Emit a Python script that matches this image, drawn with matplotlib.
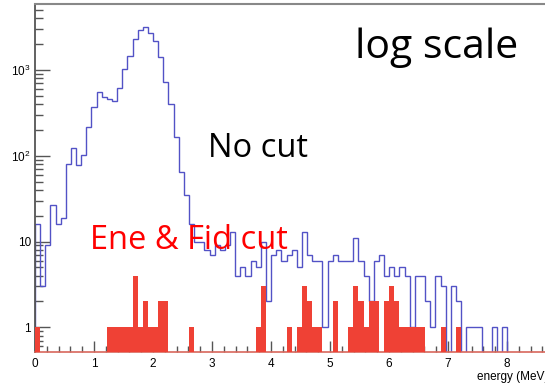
import numpy as np
import matplotlib
matplotlib.use("Agg")
import matplotlib.pyplot as plt
from matplotlib.ticker import FixedLocator, FixedFormatter, LogLocator, MultipleLocator, NullFormatter

plt.rcParams['font.family'] = ['Liberation Sans', 'DejaVu Sans']

# histogram definition: 100 bins from 0 to 8.7 MeV
bin_width = 0.087
n_bins = 100

# counts per bin
no_cut = [16, 3, 9, 27, 16, 19, 80, 125, 78, 103,
          219, 375, 552, 491, 461, 441, 615, 1025, 1465, 2295,
          2945, 3163, 2740, 2210, 1414, 734, 400, 168, 64, 35,
          16, 10, 10, 8, 7, 9, 8, 9, 13, 4,
          5, 4, 6, 5, 10, 2, 7, 8, 6, 7,
          8, 5, 13, 7, 6, 6, 1, 6, 7, 6,
          6, 6, 11, 6, 4, 2, 6, 7, 4, 5,
          4, 5, 4, 1, 4, 4, 2, 1, 4, 3,
          0, 3, 2, 0, 1, 1, 1, 0, 0, 1,
          0, 1, 0, 0, 0, 0, 0, 0, 0, 0]

ene_fid_cut = [1, 0, 0, 0, 0, 0, 0, 0, 0, 0,
               0, 0, 0, 0, 1, 1, 1, 1, 1, 4,
               1, 2, 1, 1, 2, 2, 0, 0, 0, 0,
               1, 0, 0, 0, 0, 0, 0, 0, 0, 0,
               0, 0, 0, 1, 3, 0, 0, 0, 0, 1,
               0, 1, 3, 2, 1, 1, 0, 0, 2, 0,
               0, 1, 3, 2, 1, 2, 2, 0, 2, 3,
               2, 1, 1, 1, 1, 1, 0, 0, 0, 1,
               0, 0, 1, 0, 0, 0, 0, 0, 0, 0,
               0, 0, 0, 0, 0, 0, 0, 0, 0, 0]

y_ticks = [1, 10, 100, 1000]
y_tick_labels = ["1", "10", r"$\mathregular{10^{2}}$", r"$\mathregular{10^{3}}$"]

edges = np.arange(n_bins + 1) * bin_width
blue = np.array(no_cut, dtype=float)
red = np.array(ene_fid_cut, dtype=float)
floor = 1e-2  # empty bins drop below the frame, like ROOT

fig = plt.figure(figsize=(5.45, 3.86), dpi=100)
ax = fig.add_axes([35 / 545, 34 / 386, 513.3 / 545, 348 / 386])

ax.stairs(np.where(blue > 0, blue, floor), edges, baseline=floor,
          color='#5252c6', lw=1.0, zorder=2)
ax.stairs(np.where(red > 0, red, floor), edges, baseline=floor,
          fill=True, color='#ef4135', lw=0, zorder=3)

ax.set_yscale('log')
ax.set_xlim(0, n_bins * bin_width)
ax.set_ylim(0.515, 5900)

# ROOT style axes
ax.yaxis.set_major_locator(FixedLocator(y_ticks))
ax.yaxis.set_major_formatter(FixedFormatter(y_tick_labels))
ax.yaxis.set_minor_locator(LogLocator(base=10, subs=np.arange(2, 10), numticks=20))
ax.yaxis.set_minor_formatter(NullFormatter())
ax.xaxis.set_major_locator(MultipleLocator(1))
ax.xaxis.set_minor_locator(MultipleLocator(0.2))

ax.tick_params(which='both', direction='in', top=False, right=False,
               colors='#555555', labelcolor='black', labelsize=8.5)
ax.tick_params(axis='y', which='major', length=11, width=1.0, pad=3)
ax.tick_params(axis='y', which='minor', length=5.5, width=1.0)
ax.tick_params(axis='x', which='major', length=8, width=1.0, pad=4)
ax.tick_params(axis='x', which='minor', length=4, width=1.0)

ax.spines['left'].set_color('#555555')
ax.spines['left'].set_linewidth(1.3)
ax.spines['top'].set_color('#888888')
ax.spines['top'].set_linewidth(1.5)
ax.spines['bottom'].set_color('#d8675c')
ax.spines['bottom'].set_linewidth(1.2)
ax.spines['right'].set_visible(False)

ax.set_xlabel("energy (MeV)", loc='right', fontsize=8.5, labelpad=1)

# slide annotations
fig.text(355 / 545, 1 - 58 / 386, "log scale", family='Open Sans',
         fontsize=29.5, color='black', va='baseline')
fig.text(208 / 545, 1 - 157 / 386, "No cut", family='Open Sans',
         fontsize=23.5, color='black', va='baseline')
fig.text(90 / 545, 1 - 249 / 386, "Ene & Fid cut", family='Open Sans',
         fontsize=23.5, color='#ff0000', va='baseline')

fig.savefig("out.png", dpi=100)
